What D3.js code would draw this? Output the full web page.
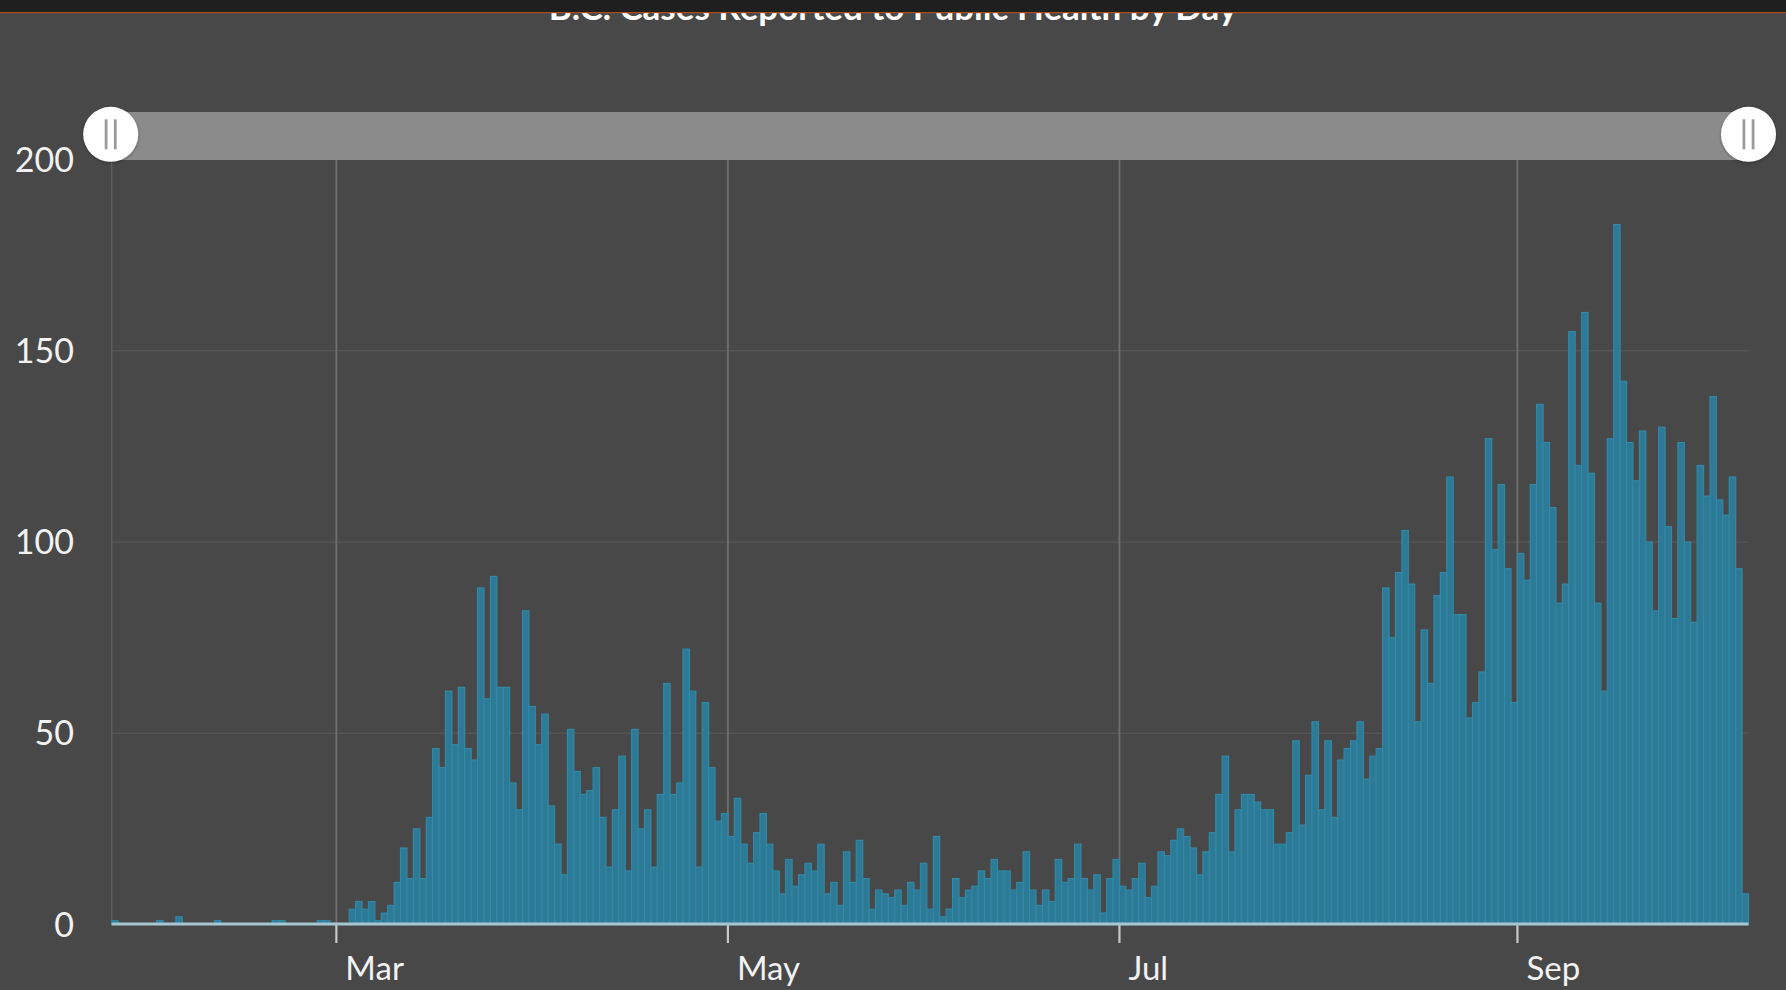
<!DOCTYPE html>
<html>
<head>
<meta charset="utf-8">
<script src="https://cdn.jsdelivr.net/npm/d3@7"></script>
<style>
  body { margin:0; background:#484848; }
  svg { display:block; font-family: Lato, "Open Sans", sans-serif; }
</style>
</head>
<body>
<script>
// daily counts, first bar = 2020-01-26
var firstDay = "2020-01-26";
var lastDay = "2020-10-07";
var cases = [
  1,0,0,0,0,0,0,1,0,0, 2,0,0,0,0,0,1,0,0,0, 0,0,0,0,0,1,1,0,0,0, 0,0,1,1,0,0,0,4,6,4,
  6,1,3,5,11,20,12,25,12,28, 46,41,61,47,62,46,43,88,59,91, 62,62,37,30,82,57,47,55,31,21,
  13,51,40,34,35,41,28,15,30,44, 14,51,25,30,15,34,63,34,37,72, 61,15,58,41,27,29,23,33,21,16,
  24,29,21,14,8,17,10,13,16,14, 21,8,11,5,19,11,22,12,4,9, 8,7,9,5,11,9,16,4,23,2,
  4,12,7,9,10,14,12,17,14,14, 9,11,19,9,5,9,6,17,11,12, 21,12,9,13,3,12,17,10,9,12,
  16,7,10,19,18,22,25,23,20,13, 19,24,34,44,19,30,34,34,32,30, 30,21,21,24,48,26,39,53,30,48,
  28,43,46,48,53,38,44,46,88,75, 92,103,89,53,77,63,86,92,117,81, 81,54,58,66,127,98,115,93,58,97,
  90,115,136,126,109,84,89,155,120,160, 118,84,61,127,183,142,126,116,129,100, 82,130,104,80,126,100,79,120,112,138,
  111,107,117,93,8
];
var yTicks = [0, 50, 100, 150, 200];
var monthTicks = ["2020-03-01", "2020-05-01", "2020-07-01", "2020-09-01"];
var monthNames = ["Mar", "May", "Jul", "Sep"];
var title = "B.C. Cases Reported to Public Health by Day";

var width = 1786, height = 990;
var plotL = 111.7, plotR = 1748.5, plotT = 159.5, plotB = 924.5;

var parse = d3.utcParse("%Y-%m-%d");
var day0 = parse(firstDay);
var data = cases.map(function(v, i) { return {date: d3.utcDay.offset(day0, i), value: v}; });

var svg = d3.select("body").append("svg")
    .attr("width", width)
    .attr("height", height);

svg.append("rect").attr("width", width).attr("height", height).attr("fill", "#484848");

var x = d3.scaleUtc()
    .domain([day0, parse(lastDay)])
    .range([plotL, plotR]);

var y = d3.scaleLinear()
    .domain([0, 200])
    .range([plotB, plotT]);

// title, mostly hidden under the top band
svg.append("text")
    .attr("x", 893)
    .attr("y", 20)
    .attr("text-anchor", "middle")
    .attr("fill", "#ffffff")
    .style("font-size", "35px")
    .style("font-weight", "bold")
    .text(title);

svg.append("rect").attr("x", 0).attr("y", 0).attr("width", width).attr("height", 12).attr("fill", "#1f1f1f");
svg.append("rect").attr("x", 0).attr("y", 12).attr("width", width).attr("height", 1.2).attr("fill", "#a8501c");

// horizontal grid
svg.append("g")
    .selectAll("line")
    .data(yTicks.filter(function(d) { return d > 0 && d < 200; }))
    .enter().append("line")
    .attr("x1", plotL).attr("x2", plotR)
    .attr("y1", function(d) { return y(d); })
    .attr("y2", function(d) { return y(d); })
    .style("stroke", "#555555")
    .style("stroke-width", 1.5);

// left edge line
svg.append("line")
    .attr("x1", plotL).attr("x2", plotL)
    .attr("y1", plotT).attr("y2", plotB)
    .style("stroke", "#5e5e5e")
    .style("stroke-width", 1.5);

// month lines
var mt = svg.append("g").selectAll("g")
    .data(monthTicks)
    .enter().append("g")
    .attr("transform", function(d) { return "translate(" + x(parse(d)) + ",0)"; });

mt.append("line")
    .attr("y1", plotT).attr("y2", plotB)
    .style("stroke", "#6f6f6f")
    .style("stroke-width", 1.8);

mt.append("line")
    .attr("y1", plotB).attr("y2", 943)
    .style("stroke", "#c9c9c9")
    .style("stroke-width", 2.2);

mt.append("text")
    .attr("x", 9)
    .attr("y", 980)
    .attr("fill", "#f2f2f2")
    .style("font-size", "33px")
    .text(function(d, i) { return monthNames[i]; });

// bars
svg.append("g")
    .selectAll("rect")
    .data(data.filter(function(d) { return d.value > 0; }))
    .enter().append("rect")
    .attr("x", function(d) { return x(d.date); })
    .attr("y", function(d) { return y(d.value); })
    .attr("width", function(d) { return x(d3.utcDay.offset(d.date, 1)) - x(d.date); })
    .attr("height", function(d) { return y(0) - y(d.value); })
    .attr("fill", "#2c7a96")
    .style("stroke", "#3288a6")
    .style("stroke-width", 1.2);

// baseline
svg.append("line")
    .attr("x1", plotL).attr("x2", plotR)
    .attr("y1", plotB - 0.5).attr("y2", plotB - 0.5)
    .style("stroke", "#a6c6d2")
    .style("stroke-width", 3);

// y labels
svg.append("g")
    .selectAll("text")
    .data(yTicks)
    .enter().append("text")
    .attr("x", 74)
    .attr("y", function(d) { return y(d); })
    .attr("dy", "0.36em")
    .attr("text-anchor", "end")
    .attr("fill", "#f2f2f2")
    .style("font-size", "34px")
    .text(function(d) { return d; });

// range slider
var defs = svg.append("defs");
var f = defs.append("filter").attr("id", "sh").attr("x", "-30%").attr("y", "-30%").attr("width", "160%").attr("height", "160%");
f.append("feDropShadow").attr("dx", 0).attr("dy", 1).attr("stdDeviation", 1.5).attr("flood-color", "#000").attr("flood-opacity", 0.35);

svg.append("rect")
    .attr("x", plotL).attr("y", 112)
    .attr("width", plotR - plotL).attr("height", 48)
    .attr("fill", "#8b8b8b");

var handle = svg.append("g").selectAll("g")
    .data([plotL - 1, plotR])
    .enter().append("g")
    .attr("transform", function(d) { return "translate(" + d + ",134.3)"; });

handle.append("circle")
    .attr("r", 27.5)
    .attr("fill", "#ffffff")
    .attr("filter", "url(#sh)");

handle.selectAll("line")
    .data([-4.6, 4.6])
    .enter().append("line")
    .attr("x1", function(d) { return d; }).attr("x2", function(d) { return d; })
    .attr("y1", -15).attr("y2", 15)
    .style("stroke", "#9b9b9b")
    .style("stroke-width", 2.8);
</script>
</body>
</html>
